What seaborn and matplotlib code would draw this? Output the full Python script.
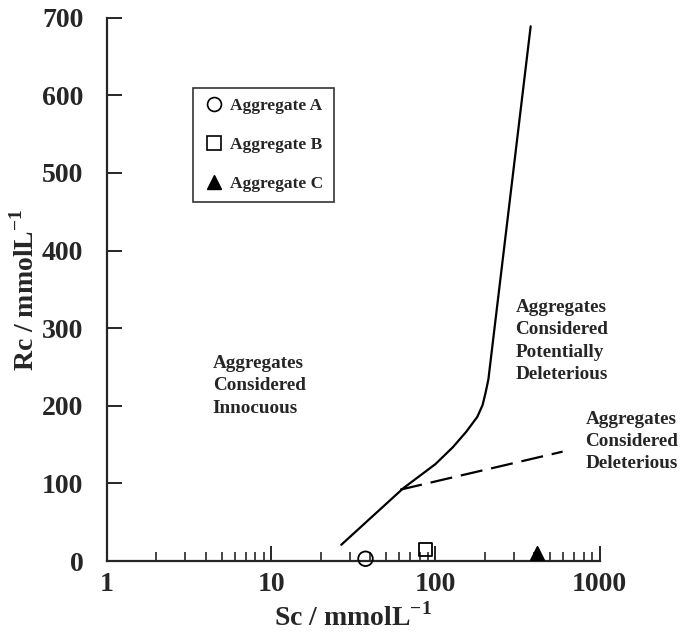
import matplotlib
matplotlib.use('Agg')
import matplotlib.pyplot as plt
import seaborn as sns
import pandas as pd
from matplotlib.ticker import FixedLocator, NullFormatter
from matplotlib.lines import Line2D

# boundary between innocuous and potentially deleterious
boundary_sc = [26.7, 63.8, 100, 128, 154.5, 180, 193.6, 202, 210, 380]
boundary_rc = [21, 94, 125, 147, 167, 186, 201, 217, 234, 689]

# boundary for deleterious (dashed)
dashed_sc = [61, 595]
dashed_rc = [92, 141]

aggregates = ['Aggregate A', 'Aggregate B', 'Aggregate C']
agg_sc = [37.5, 87, 413]
agg_rc = [3, 15, 11]

x_ticks = [1, 10, 100, 1000]
y_ticks = [0, 100, 200, 300, 400, 500, 600, 700]

sns.set_style('ticks')
plt.rcParams['font.family'] = ['Liberation Serif', 'DejaVu Serif']
plt.rcParams['font.weight'] = 'bold'
plt.rcParams['mathtext.fontset'] = 'custom'
plt.rcParams['mathtext.rm'] = 'Liberation Serif:bold'
plt.rcParams['mathtext.bf'] = 'Liberation Serif:bold'
plt.rcParams['axes.unicode_minus'] = False

fig = plt.figure(figsize=(6.83, 6.34), dpi=100)
ax = fig.add_axes([0.1567, 0.115, 0.7213, 0.857])

sns.lineplot(x=boundary_sc, y=boundary_rc, ax=ax, color='black', lw=1.6,
             sort=False, estimator=None)
sns.lineplot(x=dashed_sc, y=dashed_rc, ax=ax, color='black', lw=1.6,
             sort=False, estimator=None, linestyle=(0, (10, 4)))

df = pd.DataFrame({'Sc': agg_sc, 'Rc': agg_rc, 'agg': aggregates})
markers = {'Aggregate A': 'o', 'Aggregate B': 's', 'Aggregate C': '^'}
for name, m in markers.items():
    sub = df[df['agg'] == name]
    filled = name == 'Aggregate C'
    sns.scatterplot(data=sub, x='Sc', y='Rc', ax=ax, marker=m,
                    s={'o': 110, 's': 100, '^': 90}[m],
                    facecolor='black' if filled else 'none',
                    edgecolor='black', linewidth=1.3, clip_on=False, zorder=5,
                    legend=False)

ax.set_xscale('log')
ax.set_xlim(1, 1000)
ax.set_ylim(0, 700)
ax.set_xticks(x_ticks)
ax.set_xticklabels([str(t) for t in x_ticks])
ax.xaxis.set_minor_locator(FixedLocator([m * d for d in [1, 10, 100] for m in range(2, 10)]))
ax.xaxis.set_minor_formatter(NullFormatter())
ax.set_yticks(y_ticks)
ax.set_yticklabels([str(t) for t in y_ticks])

ax.tick_params(axis='both', which='major', direction='in', length=11, width=1.4,
               labelsize=20)
ax.tick_params(axis='x', which='major', pad=8)
ax.tick_params(axis='y', which='major', pad=17)
ax.tick_params(axis='x', which='minor', direction='in', length=6.5, width=1.2)
sns.despine(ax=ax)
for s in ['left', 'bottom']:
    ax.spines[s].set_linewidth(1.6)

ax.set_xlabel(r'Sc / mmolL$^{\mathbf{-1}}$', fontsize=20, fontweight='bold', labelpad=4)
ax.set_ylabel(r'Rc / mmolL$^{\mathbf{-1}}$', fontsize=20, fontweight='bold', labelpad=2)

txt = dict(fontsize=13.8, fontweight='bold', linespacing=1.42, va='top', ha='left')
ax.text(4.4, 266, 'Aggregates\nConsidered\nInnocuous', **txt)
ax.text(307, 338, 'Aggregates\nConsidered\nPotentially\nDeleterious', **txt)
ax.text(820, 194, 'Aggregates\nConsidered\nDeleterious', clip_on=False, **txt)

handles = [
    Line2D([], [], marker='o', ls='none', mfc='none', mec='black', ms=10, mew=1.2),
    Line2D([], [], marker='s', ls='none', mfc='none', mec='black', ms=9.5, mew=1.2),
    Line2D([], [], marker='^', ls='none', mfc='black', mec='black', ms=9.5),
]
leg = ax.legend(handles, aggregates, loc='upper left', bbox_to_anchor=(0.174, 0.871),
                frameon=True, fancybox=False, edgecolor='black',
                labelspacing=1.3, handletextpad=0.35, handlelength=1.2,
                borderpad=0.6, borderaxespad=0, prop={'weight': 'bold', 'size': 12.5})
leg.get_frame().set_linewidth(1.2)

fig.savefig('out.png', dpi=100)
